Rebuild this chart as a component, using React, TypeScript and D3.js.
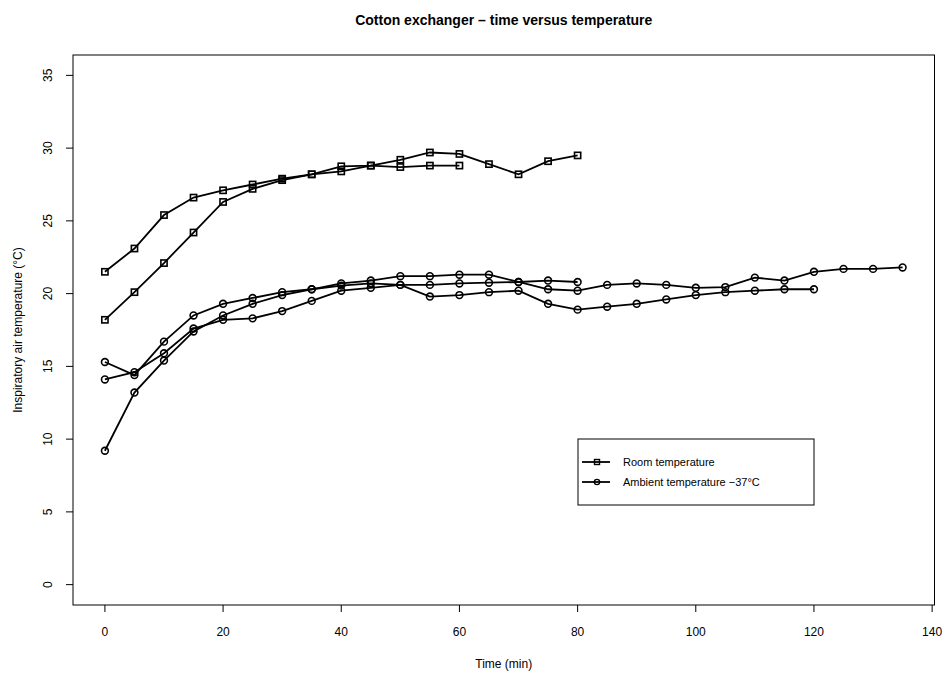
import React from "react";
import * as d3 from "d3";

const times = [0, 5, 10, 15, 20, 25, 30, 35, 40, 45, 50, 55, 60, 65, 70, 75, 80, 85, 90, 95, 100, 105, 110, 115, 120, 125, 130, 135];

const roomA = [21.5, 23.1, 25.4, 26.6, 27.1, 27.5, 27.9, 28.2, 28.4, 28.8, 28.7, 28.8, 28.8];
const roomB = [18.2, 20.1, 22.1, 24.2, 26.3, 27.2, 27.8, 28.2, 28.75, 28.8, 29.2, 29.7, 29.6, 28.9, 28.2, 29.1, 29.5];

const ambX = [9.2, 13.2, 15.4, 17.4, 18.5, 19.3, 19.9, 20.3, 20.55, 20.7, 20.6, 20.6, 20.7, 20.75, 20.8, 20.9, 20.8];
const ambY = [15.3, 14.4, 16.7, 18.5, 19.3, 19.7, 20.1, 20.3, 20.7, 20.9, 21.2, 21.2, 21.3, 21.3, 20.8, 20.3, 20.2, 20.6, 20.7, 20.6, 20.4, 20.45, 21.1, 20.9, 21.5, 21.7, 21.7, 21.8];
const ambZ = [14.1, 14.6, 15.9, 17.6, 18.2, 18.3, 18.8, 19.5, 20.2, 20.4, 20.6, 19.8, 19.9, 20.1, 20.2, 19.3, 18.9, 19.1, 19.3, 19.6, 19.9, 20.1, 20.2, 20.3, 20.3];

const xTicks = [0, 20, 40, 60, 80, 100, 120, 140];
const yTicks = [0, 5, 10, 15, 20, 25, 30, 35];

const title = "Cotton exchanger \u2013 time versus temperature";
const xLabel = "Time (min)";
const yLabel = "Inspiratory air temperature (\u00b0C)";
const legendLabels = ["Room temperature", "Ambient temperature \u221237\u00b0C"];

const W = 946;
const H = 673;
const left = 73;
const right = 934.5;
const top = 55;
const bottom = 605;

export default function App() {
  const x = d3.scaleLinear().domain([-5.4, 140.4]).range([left, right]);
  const y = d3.scaleLinear().domain([-1.4, 36.4]).range([bottom, top]);

  const toPts = (vals: number[]) => vals.map((v, i) => [times[i], v] as [number, number]);
  const line = d3.line<[number, number]>().x((d) => x(d[0])).y((d) => y(d[1]));

  const squares = [roomA, roomB].map(toPts);
  const circles = [ambX, ambY, ambZ].map(toPts);

  const font = "'Liberation Sans', Arial, Helvetica, sans-serif";
  const sq = 6.2;

  return (
    <svg width={W} height={H} style={{ position: "absolute", left: 0, top: 0, background: "#fff" }} fontFamily={font}>
      <rect x={0} y={0} width={W} height={H} fill="#fff" />
      <text x={(left + right) / 2} y={25} textAnchor="middle" fontSize={14} fontWeight="bold">{title}</text>
      <rect x={left} y={top} width={right - left} height={bottom - top} fill="none" stroke="#000" strokeWidth={1} />
      {xTicks.map((t) => (
        <g key={"xt" + t}>
          <line x1={x(t)} x2={x(t)} y1={bottom} y2={bottom + 7} stroke="#000" />
          <text x={x(t)} y={bottom + 31} textAnchor="middle" fontSize={12}>{t}</text>
        </g>
      ))}
      {yTicks.map((t) => (
        <g key={"yt" + t}>
          <line x1={left} x2={left - 7} y1={y(t)} y2={y(t)} stroke="#000" />
          <text transform={`translate(${left - 21},${y(t)}) rotate(-90)`} textAnchor="middle" fontSize={12}>{t}</text>
        </g>
      ))}
      <text x={(left + right) / 2} y={668} textAnchor="middle" fontSize={12}>{xLabel}</text>
      <text transform={`translate(22,${(top + bottom) / 2}) rotate(-90)`} textAnchor="middle" fontSize={12}>{yLabel}</text>

      {squares.map((s, i) => (
        <g key={"s" + i}>
          <path d={line(s) || ""} fill="none" stroke="#000" strokeWidth={1.8} />
          {s.map((d, j) => (
            <rect key={j} x={x(d[0]) - sq / 2} y={y(d[1]) - sq / 2} width={sq} height={sq} fill="none" stroke="#000" strokeWidth={1.6} />
          ))}
        </g>
      ))}
      {circles.map((s, i) => (
        <g key={"c" + i}>
          <path d={line(s) || ""} fill="none" stroke="#000" strokeWidth={1.8} />
          {s.map((d, j) => (
            <circle key={j} cx={x(d[0])} cy={y(d[1])} r={3.4} fill="none" stroke="#000" strokeWidth={1.6} />
          ))}
        </g>
      ))}

      <g>
        <rect x={578} y={439} width={236} height={66} fill="#fff" stroke="#000" strokeWidth={1} />
        {legendLabels.map((lab, i) => {
          const ly = 462 + i * 20;
          return (
            <g key={"lg" + i}>
              <line x1={582} x2={610} y1={ly} y2={ly} stroke="#000" strokeWidth={1.8} />
              {i === 0 ? (
                <rect x={597 - 2.5} y={ly - 2.5} width={5} height={5} fill="none" stroke="#000" strokeWidth={1.4} />
              ) : (
                <circle cx={597} cy={ly} r={2.6} fill="none" stroke="#000" strokeWidth={1.4} />
              )}
              <text x={623} y={ly + 4} fontSize={11}>{lab}</text>
            </g>
          );
        })}
      </g>
    </svg>
  );
}
